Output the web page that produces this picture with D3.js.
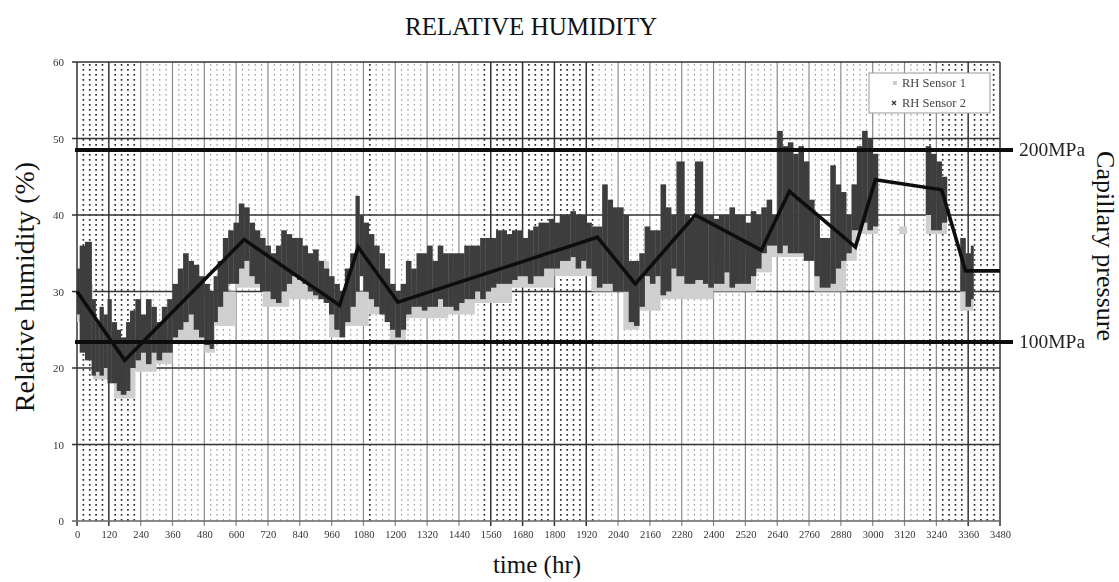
<!DOCTYPE html>
<html>
<head>
<meta charset="utf-8">
<script src="https://cdn.jsdelivr.net/npm/d3@7"></script>
<style>
  body { margin: 0; background: #fff; }
  svg { display: block; }
</style>
</head>
<body>
<svg id="chart" width="1119" height="582"></svg>
<script>
// ---- data -------------------------------------------------------------
const xTickLabels = ["0","120","240","360","480","600","720","840","960","1080","1200","1320","1440","1560","1680","1800","1920","2040","2160","2280","2400","2520","2640","2760","2880","3000","3120","3240","3360","3480"];
const yTickLabels = ["0","10","20","30","40","50","60"];

// Trend line through the humidity record (time in hours, RH in %)
const trendTime = [0, 180, 630, 990, 1060, 1210, 1962, 2105, 2331, 2580, 2686, 2935, 3010, 3260, 3350, 3480];
const trendRH   = [30, 21, 36.8, 28.2, 35.8, 28.6, 37.1, 31.0, 40.0, 35.4, 43.1, 35.8, 44.6, 43.3, 32.7, 32.7];

// Reading envelopes: each entry covers [time_i, time_{i+1}); null marks a gap in the record
const s2Time = [0,10,30,55,70,85,100,115,130,150,165,185,200,220,240,260,280,300,320,340,360,380,400,420,440,460,480,500,515,530,550,570,590,610,630,650,670,690,710,730,750,770,790,810,830,850,870,890,910,930,950,970,990,1010,1030,1050,1065,1080,1100,1120,1140,1160,1180,1200,1220,1240,1260,1280,1300,1320,1340,1360,1380,1400,1420,1440,1460,1480,1500,1520,1540,1560,1580,1600,1620,1640,1660,1680,1700,1720,1740,1760,1780,1800,1820,1840,1860,1880,1900,1920,1940,1960,1980,2000,2020,2040,2060,2080,2100,2120,2140,2160,2180,2200,2220,2240,2260,2290,2310,2330,2360,2380,2400,2420,2440,2460,2480,2500,2520,2540,2560,2580,2600,2620,2640,2660,2680,2700,2720,2740,2760,2780,2800,2820,2840,2860,2880,2900,2920,2940,2960,2980,3000,3020,3200,3220,3240,3260,3280,3330,3350,3370,3380];
const s2Low  = [27,22,21,19,19.5,19,20,18,18,17,16.5,17,20,21,22,20.5,22,21,22,22,24,25,26,27,25,24,23,22.5,26,28,30,31,31,33,34,32,31,30,30,29,28.5,30,31,32,31.5,31,30,29.5,29,28.5,27,25,24,26,28,30,32,30,29,28,27,26,25,24,25,27,28,28,27.5,28,28,29,28,28,27.5,28.5,29,29,30,29,30,30.5,31,31,31,31.5,32,32,31,32,32,33,33,33,34,34,34.5,33,34,33,32,30.5,31,31,30,30,30,26,25.5,28,32,31,32,29.5,30,33,32,31,31,31.5,31,30.5,31,31,32.5,30.5,31,31,31,32,33,35,36,36,35,36,35,35,35,34,34,32,30.5,30.5,31,33,34,35,38,38,39,38,38.5,null,40,38,38,39,null,30,28,29,null];
const s2High = [33,36,36.5,29,26,28,27,29,26,25,24,26,27.5,29,27,29,28,26,28,29,31,33,35,34,33.5,32,31,30,32,34,37,38,39,41.5,41,39,38,37,36,35,36,38,37.5,37,37,36,35,35.5,34,33,32,31,30,33,35,42.5,40,39,37.5,36,35,33,31,30,31,34,33,35,35,36,34,36,35,35,35,35,36,36,36,37,37,37,38,38,37.5,38,38,37,38,38.5,39,39,39.5,39,40,40,40.5,40,40,39,38.5,38.5,44,42,41,41,40,34,34,35,38.5,38,38,44,41,40,47,40,39.5,47,40,40,39.5,40,40,41,40,40,39,40.5,40,41,42,40,51,49,49.5,48,49,47,42,40,37,37,46.5,44,43,40,44,49,51,50,48,null,49,48,47,45,null,37,35,36,null];

const s1Time = [0,60,140,220,300,360,480,520,600,700,800,950,1010,1100,1180,1240,1400,1500,1640,1800,1940,2060,2120,2200,2400,2560,2620,2780,2900,2940,3020,3100,3130,3200,3280,3330,3380];
const s1Low  = [26,18.5,16,19.5,20.5,23.5,22,25.5,30.5,28,29,24,25.5,27,23,26.5,27,28.5,30.5,32,30,25,27.5,29,30,32.5,34.5,30,34,37.5,null,37.5,null,37.5,null,27.5,null];
const s1High = [31,24,22,25,25,28,27,30,35,33,34,29,30,32,28,31,32,33,35,36,35,30,32,34,35,37,39,34,38,42,null,38.5,null,41,null,32,null];

const pressureLevels = [
  { label: "200MPa", rh: 48.5 },
  { label: "100MPa", rh: 23.4 }
];

const legendItems = ["RH Sensor 1", "RH Sensor 2"];

// ---- layout -------------------------------------------------------------
const svg = d3.select("#chart");
const serif = "'Liberation Serif', 'Times New Roman', serif";
const x = d3.scaleLinear().domain([0, 3480]).range([77, 1000]);
const y = d3.scaleLinear().domain([0, 60]).range([521, 62]);

// soft look of the printed figure
const defs = svg.append("defs");
defs.append("filter").attr("id", "soft")
  .append("feGaussianBlur").attr("stdDeviation", 0.45);

const plot = svg.append("g").attr("filter", "url(#soft)");

// dotted minor columns: four per 120 h interval
const darkMinor = t => (t < 240) || (t > 1530 && t < 1950) || (t > 3210) || t === 1104;
const minorTimes = [];
for (let t = 24; t < 3480; t += 24) if (t % 120 !== 0) minorTimes.push(t);
plot.append("g").selectAll("line").data(minorTimes).join("line")
  .attr("x1", d => x(d)).attr("x2", d => x(d))
  .attr("y1", y(60) + 2).attr("y2", y(0))
  .attr("stroke", d => darkMinor(d) ? "#2a2a2a" : "#9a9a9a")
  .attr("stroke-width", d => darkMinor(d) ? 1.6 : 1.1)
  .attr("stroke-dasharray", "1.8,3.2");

// major vertical grid
const majorTimes = xTickLabels.map(Number);
const darkMajor = t => t <= 120 || (t >= 1560 && t <= 1920) || t >= 3360;
plot.append("g").selectAll("line").data(majorTimes).join("line")
  .attr("x1", d => x(d)).attr("x2", d => x(d))
  .attr("y1", y(60)).attr("y2", y(0) + 5)
  .attr("stroke", d => darkMajor(d) ? "#333" : "#8a8a8a")
  .attr("stroke-width", d => darkMajor(d) ? 1.5 : 1.2);

// horizontal grid
const yVals = yTickLabels.map(Number);
plot.append("g").selectAll("line").data(yVals).join("line")
  .attr("x1", x(0) - 5).attr("x2", x(3480))
  .attr("y1", d => y(d)).attr("y2", d => y(d))
  .attr("stroke", d => d === 0 ? "#666" : "#333")
  .attr("stroke-width", 1.3);

// axes text
const yAxis = d3.axisLeft(y).tickValues(yVals).tickFormat((d, i) => yTickLabels[i]).tickSize(0).tickPadding(13);
const gy = plot.append("g").attr("transform", `translate(${x(0)},0)`).call(yAxis);
gy.select(".domain").remove();
gy.selectAll("text").attr("font-family", serif).attr("font-size", 11).attr("fill", "#333");

const xAxis = d3.axisBottom(x).tickValues(majorTimes).tickFormat((d, i) => xTickLabels[i]).tickSize(0).tickPadding(10);
const gx = plot.append("g").attr("transform", `translate(0,${y(0)})`).call(xAxis);
gx.select(".domain").remove();
gx.selectAll("text").attr("font-family", serif).attr("font-size", 10.5).attr("fill", "#333");

// readings as vertical envelopes
function envelopes(times, lo, hi) {
  const out = [];
  for (let i = 0; i < times.length - 1; i++) {
    if (lo[i] == null) continue;
    out.push({ t0: times[i], t1: times[i + 1], lo: lo[i], hi: hi[i] });
  }
  return out;
}
plot.append("g").selectAll("rect").data(envelopes(s1Time, s1Low, s1High)).join("rect")
  .attr("x", d => x(d.t0)).attr("width", d => x(d.t1) - x(d.t0))
  .attr("y", d => y(d.hi)).attr("height", d => y(d.lo) - y(d.hi))
  .attr("fill", "#cfcfcf");
plot.append("g").selectAll("rect").data(envelopes(s2Time, s2Low, s2High)).join("rect")
  .attr("x", d => x(d.t0)).attr("width", d => x(d.t1) - x(d.t0) + 0.3)
  .attr("y", d => y(d.hi)).attr("height", d => y(d.lo) - y(d.hi))
  .attr("fill", "#3d3d3d");

// trend line
const trend = trendTime.map((t, i) => [t, trendRH[i]]);
plot.append("path").datum(trend)
  .attr("d", d3.line().x(d => x(d[0])).y(d => y(d[1])))
  .attr("fill", "none").attr("stroke", "#111").attr("stroke-width", 3.6)
  .attr("stroke-linejoin", "miter");

// capillary pressure reference levels
const pl = plot.append("g");
pl.selectAll("line").data(pressureLevels).join("line")
  .attr("x1", x(0) - 2).attr("x2", 1013)
  .attr("y1", d => y(d.rh)).attr("y2", d => y(d.rh))
  .attr("stroke", "#111").attr("stroke-width", 4);
pl.selectAll("text").data(pressureLevels).join("text")
  .attr("x", 1019).attr("y", d => y(d.rh) + 6.5)
  .attr("font-family", serif).attr("font-size", 19.5).attr("fill", "#222")
  .text(d => d.label);

// legend
const lg = plot.append("g");
lg.append("rect").attr("x", 869).attr("y", 73).attr("width", 121).attr("height", 40)
  .attr("fill", "#fff").attr("stroke", "#999").attr("stroke-width", 1);
lg.append("rect").attr("x", 893).attr("y", 81).attr("width", 4).attr("height", 4).attr("fill", "#ccc");
lg.append("path").attr("d", "M892,101 l4,4 M896,101 l-4,4").attr("stroke", "#333").attr("stroke-width", 1.2);
lg.selectAll("text").data(legendItems).join("text")
  .attr("x", 902).attr("y", (d, i) => 87 + i * 20)
  .attr("font-family", serif).attr("font-size", 12.5).attr("fill", "#444")
  .text(d => d);

// titles
svg.append("text").attr("x", 531).attr("y", 35).attr("text-anchor", "middle")
  .attr("font-family", serif).attr("font-size", 25).attr("fill", "#111")
  .text("RELATIVE HUMIDITY");
svg.append("text").attr("transform", "translate(34,287) rotate(-90)").attr("text-anchor", "middle")
  .attr("font-family", serif).attr("font-size", 28).attr("fill", "#111")
  .text("Relative humidity (%)");
svg.append("text").attr("x", 537).attr("y", 573).attr("text-anchor", "middle")
  .attr("font-family", serif).attr("font-size", 25).attr("fill", "#111")
  .text("time (hr)");
svg.append("text").attr("transform", "translate(1097,246) rotate(90)").attr("text-anchor", "middle")
  .attr("font-family", serif).attr("font-size", 26).attr("fill", "#111")
  .text("Capillary pressure");
</script>
</body>
</html>
